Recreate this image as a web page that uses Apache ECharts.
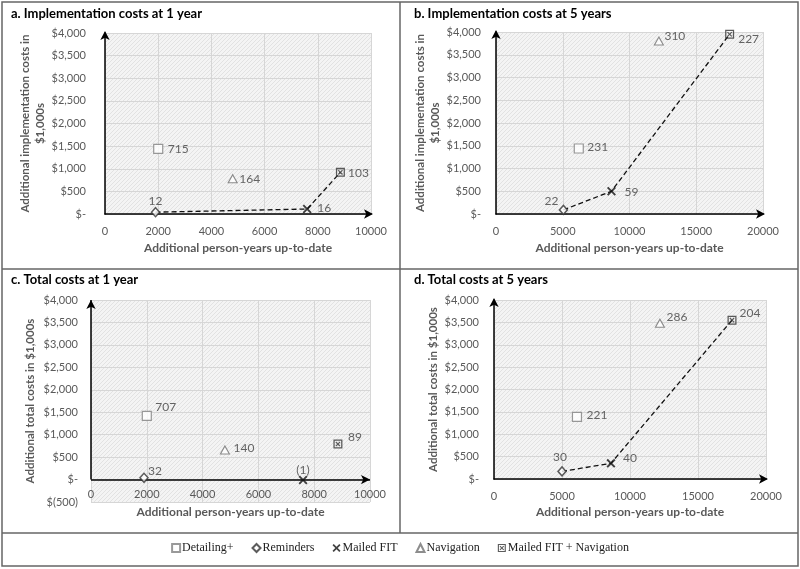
<!DOCTYPE html>
<html><head><meta charset="utf-8">
<script src="https://cdn.jsdelivr.net/npm/echarts@6/dist/echarts.min.js"></script>
<style>html,body{margin:0;padding:0;background:#fff}#c{width:800px;height:569px}</style>
</head><body><div id="c"></div>
<script>
// ---------- data ----------
const categories = ['Detailing+', 'Reminders', 'Mailed FIT', 'Navigation', 'Mailed FIT + Navigation'];
const panelTitles = ['a. Implementation costs at 1 year', 'b. Implementation costs at 5 years', 'c. Total costs at 1 year', 'd. Total costs at 5 years'];
const yNames = ['Additional implementation costs in\n$1,000s', 'Additional implementation costs in\n$1,000s', 'Additional total costs in $1,000s', 'Additional total costs in $1,000s'];
const xName = 'Additional person-years up-to-date';

const aX = [2000, 1900, 7600, 4800, 8850];
const aY = [1440, 40, 110, 780, 920];
const aLab = ['715', '12', '16', '164', '103'];

const bX = [6200, 5050, 8650, 12200, 17500];
const bY = [1440, 90, 500, 3800, 3950];
const bLab = ['231', '22', '59', '310', '227'];

const cX = [2000, 1900, 7600, 4800, 8850];
const cY = [1420, 40, -10, 660, 790];
const cLab = ['707', '32', '(1)', '140', '89'];

const dX = [6100, 5000, 8600, 12200, 17500];
const dY = [1390, 170, 350, 3480, 3550];
const dLab = ['221', '30', '40', '286', '204'];

const frontier = [1, 2, 4]; // Reminders -> Mailed FIT -> Mailed FIT + Navigation
const xMax = [10000, 20000, 10000, 20000];
const xInterval = [2000, 5000, 2000, 5000];
const yMin = [0, 0, -500, 0];
const yMax = 4000, yInterval = 500;

// ---------- styles ----------
const grids = [
  {left: 105, top: 33, width: 266, height: 181},
  {left: 496, top: 32, width: 267, height: 182},
  {left: 91, top: 300, width: 279, height: 202},
  {left: 494, top: 300, width: 272, height: 179}
];
const labelOffsets = [
  [[20, 0], [0, -11], [17, -1], [17, 0], [18, 1]],
  [[19, -1], [-12, -9], [20, 1], [16, -5], [19, 5]],
  [[19, -9], [11, -7], [0, -10], [19, -2], [17, -7]],
  [[20, -2], [-2, -14], [19, -5], [17, -6], [18, -7]]
];
const showLine = [true, true, false, true];
const FONT = 'Lato, "Liberation Sans", sans-serif';

const xPath = 'path://M0,1.5L1.5,0L5,3.5L8.5,0L10,1.5L6.5,5L10,8.5L8.5,10L5,6.5L1.5,10L0,8.5L3.5,5Z';
const mfnPath = 'path://M0,0L10,0L10,10L0,10Z M1.4,1.4L1.4,8.6L8.6,8.6L8.6,1.4Z M2.2,3.1L3.1,2.2L5,4.1L6.9,2.2L7.8,3.1L5.9,5L7.8,6.9L6.9,7.8L5,5.9L3.1,7.8L2.2,6.9L4.1,5Z';
const symStyles = [
  {symbol: 'rect', symbolSize: 9, itemStyle: {color: '#fff', borderColor: '#808080', borderWidth: 1.2}},
  {symbol: 'diamond', symbolSize: [8, 9], itemStyle: {color: '#fff', borderColor: '#333', borderWidth: 1.5}},
  {symbol: xPath, symbolSize: 9, itemStyle: {color: '#111'}},
  {symbol: 'triangle', symbolSize: [9, 8], itemStyle: {color: '#fff', borderColor: '#707070', borderWidth: 1.1}},
  {symbol: mfnPath, symbolSize: 9, itemStyle: {color: '#333'}}
];

// hatch pattern
const pc = document.createElement('canvas');
pc.width = 4; pc.height = 4;
const pctx = pc.getContext('2d');
pctx.fillStyle = '#f4f4f4'; pctx.fillRect(0, 0, 4, 4);
pctx.strokeStyle = '#e2e2e2'; pctx.lineWidth = 1;
pctx.beginPath(); pctx.moveTo(0, 4); pctx.lineTo(4, 0); pctx.stroke();
pctx.beginPath(); pctx.moveTo(-1, 1); pctx.lineTo(1, -1); pctx.stroke();
pctx.beginPath(); pctx.moveTo(3, 5); pctx.lineTo(5, 3); pctx.stroke();
const hatch = {image: pc, repeat: 'repeat'};

function fmtY(v) {
  if (v === 0) return '$-';
  const s = Math.abs(v).toLocaleString('en-US');
  return v < 0 ? '$(' + s + ')' : '$' + s;
}

const X = [aX, bX, cX, dX], Y = [aY, bY, cY, dY], L = [aLab, bLab, cLab, dLab];

const option = {
  animation: false,
  backgroundColor: '#fff',
  textStyle: {fontFamily: FONT},
  grid: grids.map(g => Object.assign({show: true, backgroundColor: hatch, borderWidth: 0, containLabel: false}, g)),
  xAxis: grids.map((g, i) => ({
    type: 'value', gridIndex: i, min: 0, max: xMax[i], interval: xInterval[i],
    axisLine: i === 2 ? {show: false} : {show: true, onZero: false, symbol: ['none', 'arrow'], symbolSize: [7, 9], symbolOffset: [0, 2], lineStyle: {color: '#000', width: 1.5}},
    axisTick: {show: false},
    splitLine: {show: true, lineStyle: {color: '#d6d6d6', width: 1}},
    axisLabel: {color: '#595959', fontSize: 11, fontFamily: FONT, margin: i === 2 ? -13 : 12, formatter: v => String(v)},
    name: xName, nameLocation: 'middle', nameGap: [28, 28, 4, 27][i],
    nameTextStyle: {color: '#595959', fontSize: 12, fontWeight: 'bold', fontFamily: FONT}
  })),
  yAxis: grids.map((g, i) => ({
    type: 'value', gridIndex: i, min: yMin[i], max: yMax, interval: yInterval,
    axisLine: i === 2 ? {show: false} : {show: true, onZero: false, symbol: ['none', 'arrow'], symbolSize: [7, 9], symbolOffset: [0, 2], lineStyle: {color: '#000', width: 1.5}},
    axisTick: {show: false},
    splitLine: {show: true, lineStyle: {color: '#d6d6d6', width: 1}},
    axisLabel: {color: '#595959', fontSize: 11, fontFamily: FONT, margin: [19, 15, 13, 15][i], formatter: fmtY},
    name: yNames[i], nameLocation: 'middle', nameRotate: 90,
    nameGap: [42, 47, 53, 49][i],
    nameTextStyle: {color: '#595959', fontSize: 11.5, fontWeight: 'bold', fontFamily: FONT, lineHeight: 15}
  })),
  title: panelTitles.map((t, i) => ({
    text: t, left: i % 2 === 0 ? 6 : 409, top: i < 2 ? 2 : 268,
    textStyle: {fontSize: 13, fontWeight: 'bold', color: '#000', fontFamily: FONT}
  })),
  legend: {
    data: categories, bottom: 10, left: 'center', itemWidth: 8, itemHeight: 8, itemGap: 18,
    textStyle: {fontFamily: '"Liberation Serif", serif', fontSize: 12, color: '#222', padding: [0, 0, 0, -3]},
    selectedMode: false
  },
  graphic: [
    {type: 'rect', shape: {x: 2, y: 2, width: 796, height: 564}, style: {fill: 'none', stroke: '#666', lineWidth: 1.5}, silent: true},
    {type: 'line', shape: {x1: 2, y1: 269, x2: 798, y2: 269}, style: {stroke: '#666', lineWidth: 1.5}, silent: true},
    {type: 'line', shape: {x1: 400, y1: 2, x2: 400, y2: 533}, style: {stroke: '#666', lineWidth: 1.5}, silent: true},
    {type: 'line', shape: {x1: 2, y1: 533, x2: 798, y2: 533}, style: {stroke: '#666', lineWidth: 1.5}, silent: true}
  ],
  series: []
};

for (let p = 0; p < 4; p++) {
  if (showLine[p]) {
    option.series.push({
      type: 'line', xAxisIndex: p, yAxisIndex: p, silent: true, symbol: 'none',
      lineStyle: {color: '#111', width: 1.3, type: [5, 3]},
      data: frontier.map(k => [X[p][k], Y[p][k]]), z: 2
    });
  }
  if (p === 2) {
    option.series.push({
      type: 'line', xAxisIndex: p, yAxisIndex: p, data: [], silent: true,
      markLine: {
        silent: true, animation: false, label: {show: false},
        lineStyle: {color: '#000', width: 1.5, type: 'solid'},
        symbol: ['none', 'arrow'], symbolSize: [7, 9],
        data: [
          [{coord: [0, 0]}, {coord: [xMax[p], 0]}],
          [{coord: [0, 0]}, {coord: [0, yMax]}]
        ]
      }
    });
  }
  categories.forEach((cat, k) => {
    const off = labelOffsets[p][k];
    option.series.push(Object.assign({
      type: 'scatter', name: cat, xAxisIndex: p, yAxisIndex: p, z: 5,
      data: [[X[p][k], Y[p][k], L[p][k]]],
      label: {show: true, position: 'inside', offset: off, formatter: q => q.data[2],
        color: '#404040', fontSize: 12, fontFamily: FONT}
    }, JSON.parse(JSON.stringify(symStyles[k]))));
  });
}

const chart = echarts.init(document.getElementById('c'), null, {renderer: 'canvas'});
chart.setOption(option);
</script></body></html>
